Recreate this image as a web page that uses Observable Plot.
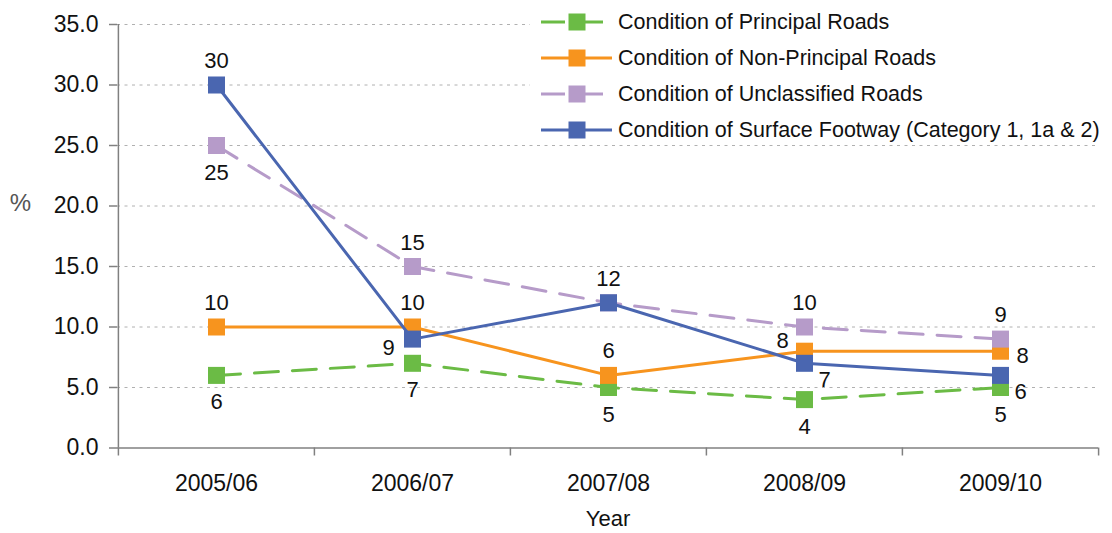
<!DOCTYPE html>
<html>
<head>
<meta charset="utf-8">
<script src="https://cdn.jsdelivr.net/npm/d3@7"></script>
<script src="https://cdn.jsdelivr.net/npm/@observablehq/plot@0.6"></script>
<style>
html, body { margin: 0; padding: 0; background: #fff; }
#wrap { position: relative; width: 1112px; height: 533px; font-family: "Liberation Sans", Arial, sans-serif; }
#legend { position: absolute; left: 530px; top: 0; width: 582px; height: 142px; background: #fff; }
.row { position: absolute; left: 0; height: 24px; width: 582px; }
.row svg { position: absolute; left: 11px; top: 2px; }
.row span { position: absolute; left: 88px; top: 0; line-height: 24px; white-space: nowrap; font-size: 21.5px; color: #111; }
</style>
</head>
<body>
<div id="wrap"><div id="chart"></div><div id="legend"></div></div>
<script>
// ---- data ----
const years = ["2005/06", "2006/07", "2007/08", "2008/09", "2009/10"];
const seriesNames = [
  "Condition of Principal Roads",
  "Condition of Non-Principal Roads",
  "Condition of Unclassified Roads",
  "Condition of Surface Footway (Category 1, 1a & 2)"
];
const principal    = [6, 7, 5, 4, 5];
const nonPrincipal = [10, 10, 6, 8, 8];
const unclassified = [25, 15, 12, 10, 9];
const footway      = [30, 9, 12, 7, 6];
const yTicks = [0, 5, 10, 15, 20, 25, 30, 35];

// ---- styles ----
const seriesColors = ["#6BBB45", "#F7941E", "#B69BC9", "#4A66B0"];
const seriesDash = ["24,14", null, "24,14", null];
// where each value label sits relative to its marker
const labelPlace = [
  ["below", "below", "below", "below", "below"],
  ["above", "above", "above", "aboveLeft", "right"],
  ["below", "above", "above", "above", "above"],
  ["above", "belowLeft", "none", "belowRight", "belowRight"]
];
const placeOffsets = {
  above: [0, -24], below: [0, 27], aboveLeft: [-22, -10],
  right: [22, 5], belowRight: [20, 17], belowLeft: [-24, 9]
};

const seriesValues = [principal, nonPrincipal, unclassified, footway];
const series = seriesNames.map((name, k) => ({
  name,
  color: seriesColors[k],
  dash: seriesDash[k],
  rows: years.map((year, i) => ({year, value: seriesValues[k][i], place: labelPlace[k][i]}))
}));

const W = 1112, H = 533, mL = 117, mR = 14, mT = 24, mB = 85.5;
const bw = (W - mL - mR) / years.length;
const axisColor = "#808080";

const marks = [
  Plot.ruleY(yTicks.filter(v => v > 0), {y: d => d, stroke: "#b0b0b0", strokeWidth: 1, strokeDasharray: "3,4.5"})
];

series.forEach(s => {
  marks.push(Plot.line(s.rows, {x: "year", y: "value", stroke: s.color, strokeWidth: 3, strokeDasharray: s.dash || undefined}));
  marks.push(Plot.dot(s.rows, {x: "year", y: "value", symbol: "square", r: 9.6, fill: s.color, stroke: "none"}));
});

const allLabels = series.flatMap(s => s.rows);
Object.entries(placeOffsets).forEach(([key, [dx, dy]]) => {
  marks.push(Plot.text(allLabels.filter(r => r.place === key), {
    x: "year", y: "value", text: r => String(r.value), dx, dy, fontSize: 22, fill: "#111"
  }));
});

marks.push(
  Plot.ruleY([0], {y: d => d, stroke: axisColor, strokeWidth: 1.5}),
  Plot.ruleX([years[0]], {x: d => d, y1: 35, y2: 0, dx: -bw / 2, stroke: axisColor, strokeWidth: 1.5}),
  Plot.ruleX(years, {x: d => d, y1: 0, y2: 0, dx: -bw / 2, insetBottom: -8, stroke: axisColor, strokeWidth: 1.5}),
  Plot.ruleX([years[years.length - 1]], {x: d => d, y1: 0, y2: 0, dx: bw / 2, insetBottom: -8, stroke: axisColor, strokeWidth: 1.5}),
  Plot.axisY({ticks: yTicks, tickFormat: d => d.toFixed(1), tickSize: 8, tickPadding: 11, fontSize: 23, stroke: axisColor, strokeWidth: 1.5, fill: "#111", label: null}),
  Plot.axisX({tickSize: 0, tickPadding: 27, fontSize: 23, fill: "#111", label: null}),
  Plot.text(["%"], {frameAnchor: "top-left", textAnchor: "middle", lineAnchor: "middle", dx: -97, dy: 179, fontSize: 24, fill: "#555"}),
  Plot.text(["Year"], {frameAnchor: "bottom", lineAnchor: "middle", dy: 71, fontSize: 22, fill: "#111"})
);

const chart = Plot.plot({
  width: W, height: H,
  marginLeft: mL, marginRight: mR, marginTop: mT, marginBottom: mB,
  style: {fontFamily: "'Liberation Sans', Arial, sans-serif", fontSize: "22px", background: "#fff", overflow: "visible"},
  x: {type: "band", domain: years, padding: 0},
  y: {domain: [0, 35]},
  marks
});
document.getElementById("chart").appendChild(chart);

// ---- legend ----
const legend = d3.select("#legend");
const rowCenters = [21.7, 57.7, 93.7, 129.7];
series.forEach((s, k) => {
  const row = legend.append("div").attr("class", "row").style("top", (rowCenters[k] - 12) + "px");
  const sw = row.append("svg").attr("width", 72).attr("height", 20);
  sw.append("line").attr("x1", 0).attr("x2", 71).attr("y1", 10).attr("y2", 10)
    .attr("stroke", s.color).attr("stroke-width", 3).attr("stroke-dasharray", s.dash);
  sw.append("rect").attr("x", 36 - 8.5).attr("y", 10 - 8.5).attr("width", 17).attr("height", 17).attr("fill", s.color);
  row.append("span").text(s.name);
});
</script>
</body>
</html>
